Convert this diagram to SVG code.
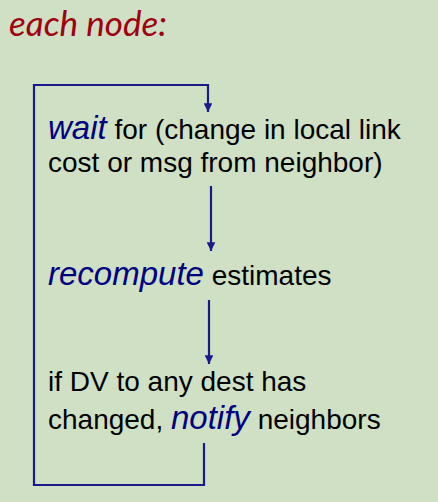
<svg xmlns="http://www.w3.org/2000/svg" width="438" height="502" viewBox="0 0 438 502">
<style>
.t{font-family:"Liberation Sans",Arial,sans-serif;font-size:28px;fill:#000}
.k{font-style:italic;fill:#000080;font-size:33px}
.title{font-family:Lato,"Open Sans",sans-serif;font-style:italic;font-size:35px;fill:#A0000F}
.c{fill:none;stroke:#1A1A8A;stroke-width:2.2}
</style>
<defs>
<marker id="ah" viewBox="0 0 10 10" refX="10" refY="5" markerWidth="4" markerHeight="4" orient="auto" markerUnits="strokeWidth">
<path d="M0,0 L10,5 L0,10 Z" fill="#1A1A8A"/>
</marker>
</defs>
<rect width="438" height="502" fill="#CFE0C4"/>
<text class="title" x="9" y="36">each node:</text>
<g id="connectors">
<path class="c" d="M204,443 V485 H34 V85 H208 V112" marker-end="url(#ah)"/>
<path class="c" d="M211,186 V251" marker-end="url(#ah)"/>
<path class="c" d="M209,300 V364" marker-end="url(#ah)"/>
</g>
<g id="wait">
<text class="t" x="48" y="139"><tspan class="k">wait</tspan> for (change in local link</text>
<text class="t" x="48" y="172">cost or msg from neighbor)</text>
</g>
<g id="recompute">
<text class="t" x="48" y="285"><tspan class="k">recompute</tspan> estimates</text>
</g>
<g id="notify">
<text class="t" x="48" y="391">if DV to any dest has</text>
<text class="t" x="48" y="429">changed, <tspan class="k">notify</tspan> neighbors</text>
</g>
</svg>
